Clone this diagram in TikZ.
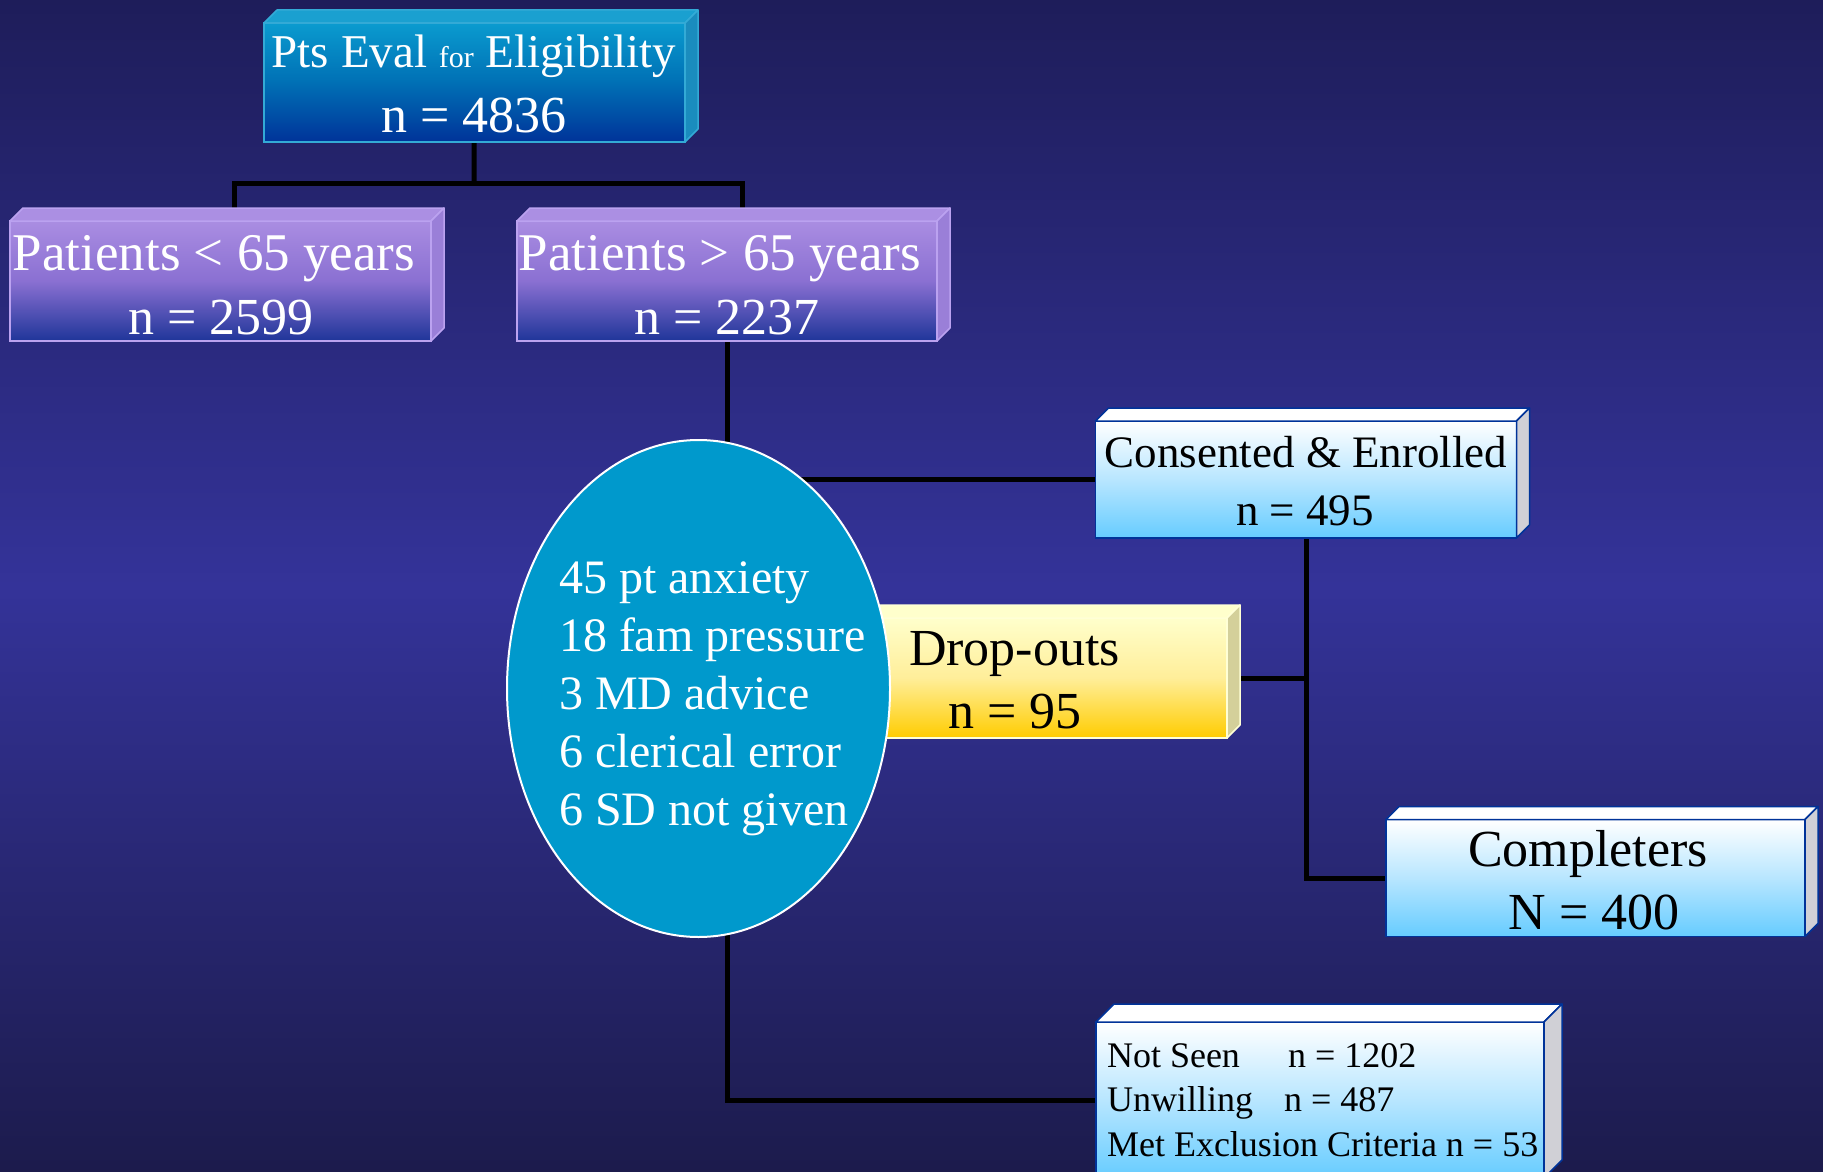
\documentclass[tikz,border=0pt]{standalone}
\usepackage{fontspec}
\setmainfont{Liberation Serif}
\usetikzlibrary{shapes.geometric}
\definecolor{bgtop}{HTML}{1E1D5A}
\definecolor{bgmid}{HTML}{343399}
\definecolor{bgbot}{HTML}{1C1B4C}
\definecolor{tealtop}{HTML}{0A9BCF}
\definecolor{tealmid}{HTML}{0070B5}
\definecolor{tealbot}{HTML}{003399}
\definecolor{tealface}{HTML}{1AA0D0}
\definecolor{tealside}{HTML}{1A8CBE}
\definecolor{tealedge}{HTML}{33AAD6}
\definecolor{lavtop}{HTML}{AA8DE2}
\definecolor{lavmid}{HTML}{8A70D2}
\definecolor{lavbot}{HTML}{1F3599}
\definecolor{lavface}{HTML}{AB8FE3}
\definecolor{lavside}{HTML}{9A7FD8}
\definecolor{lavedge}{HTML}{BBA2F0}
\definecolor{skybot}{HTML}{66CCFF}
\definecolor{skymid}{HTML}{B8E6FF}
\definecolor{skyedge}{HTML}{003399}
\definecolor{skyside}{HTML}{D0D0D6}
\definecolor{goldtop}{HTML}{FFFFCC}
\definecolor{goldmid}{HTML}{FFEE99}
\definecolor{goldbot}{HTML}{FFCC00}
\definecolor{goldside}{HTML}{D4D09A}
\definecolor{goldedge}{HTML}{FFFFD6}
\definecolor{ovalfill}{HTML}{0099CC}
\pgfdeclarelayer{bglayer}
\pgfdeclarelayer{linklayer}
\pgfsetlayers{bglayer,linklayer,main}
\newcommand\facesthreed[5]{%
  \filldraw[fill=#3, draw=#5, line width=1.5pt, line join=round]
    (#1.north west) -- ([shift={(#2,-#2)}]#1.north west) -- ([shift={(#2,-#2)}]#1.north east) -- (#1.north east) -- cycle;
  \filldraw[fill=#4, draw=#5, line width=1.5pt, line join=round]
    (#1.north east) -- ([shift={(#2,-#2)}]#1.north east) -- ([shift={(#2,-#2)}]#1.south east) -- (#1.south east) -- cycle;
}
\tikzset{
  front/.style={rectangle, inner sep=0pt, outer sep=0pt, line width=1.5pt},
  tealbox/.style={front, top color=tealtop, bottom color=tealbot, middle color=tealmid, draw=tealedge},
  lavbox/.style={front, top color=lavtop, bottom color=lavbot, middle color=lavmid, draw=lavedge},
  skybox/.style={front, top color=white, bottom color=skybot, middle color=skymid, draw=skyedge},
  goldbox/.style={front, top color=goldtop, bottom color=goldbot, middle color=goldmid, draw=goldedge},
  link/.style={draw=black, line width=5pt},
  txt/.style={inner sep=0pt, outer sep=0pt, anchor=base},
  bigtxt/.style={txt, font=\fontsize{52}{62}\selectfont},
  midtxt/.style={txt, font=\fontsize{45}{54}\selectfont},
  ovaltxt/.style={txt, font=\fontsize{48}{58}\selectfont, text=white, anchor=base west},
  smalltxt/.style={inner sep=0pt, outer sep=0pt, font=\fontsize{36}{44}\selectfont, text=black, anchor=base west},
}
\begin{document}
\begin{tikzpicture}[x=1pt, y=-1pt]
\useasboundingbox (0,0) rectangle (1823,1172);
\clip (0,0) rectangle (1823,1172);
\begin{pgfonlayer}{bglayer}
\shade[top color=bgtop, bottom color=bgbot, middle color=bgmid] (0,0) rectangle (1823,1172);
\end{pgfonlayer}

% boxes
\node[tealbox, minimum width=421pt, minimum height=119pt] (top) at (474.5,82.5) {};
\facesthreed{top}{13}{tealface}{tealside}{tealedge}
\node[lavbox, minimum width=421pt, minimum height=120pt] (b1) at (220.5,281) {};
\facesthreed{b1}{13}{lavface}{lavside}{lavedge}
\node[lavbox, minimum width=420pt, minimum height=120pt] (b2) at (727,281) {};
\facesthreed{b2}{13}{lavface}{lavside}{lavedge}
\node[skybox, minimum width=421pt, minimum height=117pt] (cons) at (1306,479.5) {};
\facesthreed{cons}{13}{white}{skyside}{skyedge}
\node[goldbox, minimum width=367pt, minimum height=120pt] (drop) at (1043.5,678) {};
\facesthreed{drop}{13}{goldtop}{goldside}{goldedge}
\node[skybox, minimum width=419pt, minimum height=117pt] (comp) at (1595.5,878) {};
\facesthreed{comp}{13}{white}{skyside}{skyedge}
\node[skybox, minimum width=448pt, minimum height=156pt] (ns) at (1320,1100) {};
\facesthreed{ns}{18}{white}{skyside}{skyedge}

% oval
\node[ellipse, fill=ovalfill, draw=white, line width=2pt, inner sep=0pt,
      minimum width=383pt, minimum height=497pt] (ex) at (698.5,688.5) {};

% connectors, behind the boxes
\coordinate (j1) at (474,183);
\begin{pgfonlayer}{linklayer}
\draw[link] (top.center) -- (j1);
\draw[link] ([xshift=14pt]b1.center) |- (j1) -| ([xshift=15pt]b2.center);
\draw[link] (b2.center) |- (ns.center);
\draw[link] (b2.center |- cons.center) -- (cons.center);
\draw[link] (cons.center) |- (comp.center);
\draw[link] (drop.center) -- (drop.center -| cons.center);
\end{pgfonlayer}

% texts
\node[txt, text=white, font=\fontsize{47}{56}\selectfont] (t1) at (474,67)
  {Pts Eval {\fontsize{30}{36}\selectfont for} Eligibility};
\node[bigtxt, text=white] (t2) at (474,132) {n = 4836};
\node[bigtxt, text=white, font=\fontsize{53}{62}\selectfont] (p1) at (214,270) {Patients < 65 years};
\node[bigtxt, text=white] (p2) at (221,334) {n = 2599};
\node[bigtxt, text=white, font=\fontsize{53}{62}\selectfont] (q1) at (720,270) {Patients > 65 years};
\node[bigtxt, text=white] (q2) at (727,334) {n = 2237};
\node[midtxt, text=black] (c1) at (1306,467) {Consented \& Enrolled};
\node[midtxt, text=black] (c2) at (1305,525) {n = 495};
\node[bigtxt, text=black, anchor=base west] (d1) at (909,665) {Drop-outs};
\node[bigtxt, text=black, anchor=base west] (d2) at (948,728) {n = 95};
\node[bigtxt, text=black] (m1) at (1588,866) {Completers};
\node[bigtxt, text=black] (m2) at (1594,929) {N = 400};
\foreach \txtline [count=\k] in {45 pt anxiety, 18 fam pressure, 3 MD advice, 6 clerical error, 6 SD not given}
  \node[ovaltxt] (r\k) at (559,{535+58*\k}) {\txtline};
\node[smalltxt] (s1) at (1107,1067) {Not Seen};
\node[smalltxt] (s1n) at (1288,1067) {n = 1202};
\node[smalltxt] (s2) at (1107,1111) {Unwilling};
\node[smalltxt] (s2n) at (1284,1111) {n = 487};
\node[smalltxt] (s3) at (1107,1156) {Met Exclusion Criteria n = 53};
\end{tikzpicture}
\end{document}
